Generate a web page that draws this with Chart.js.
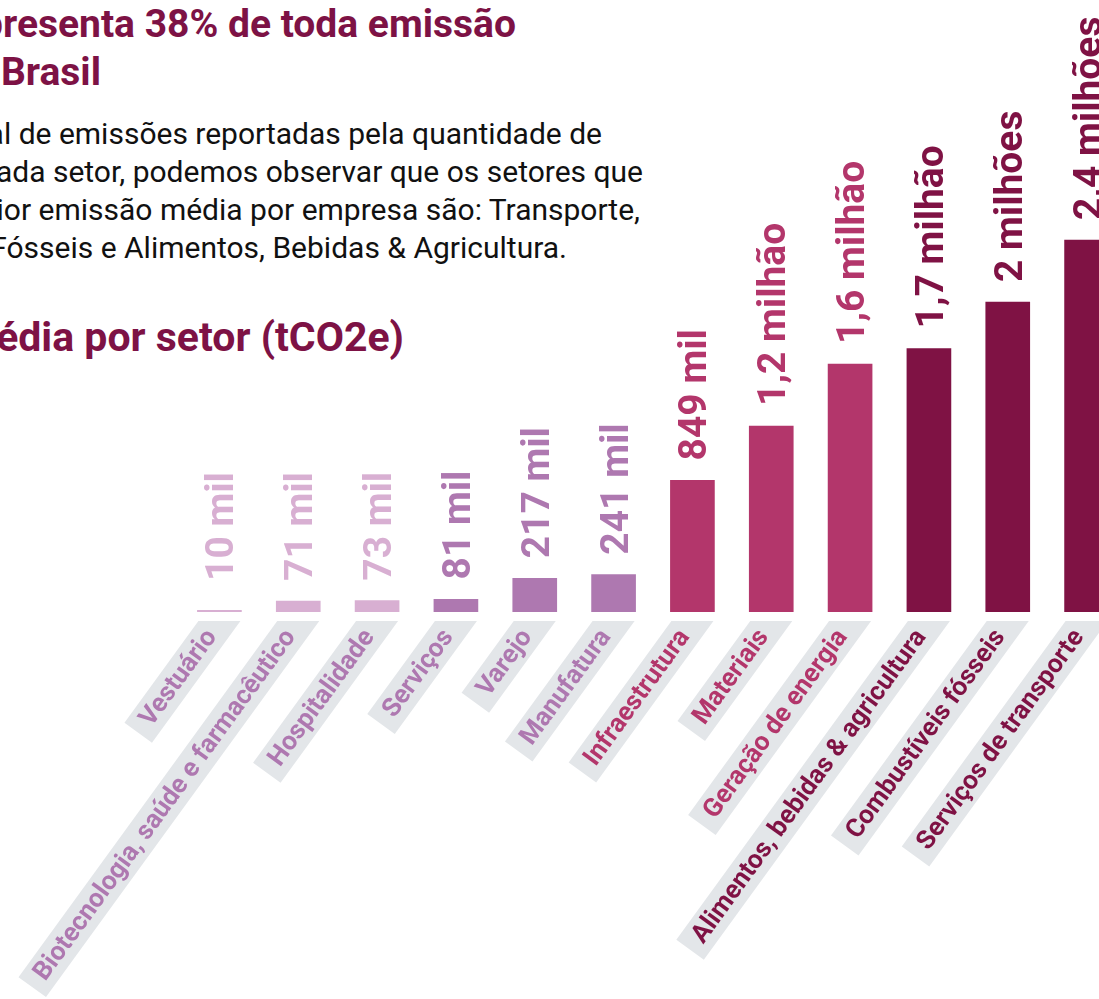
<!DOCTYPE html>
<html lang="pt-BR">
<head>
<meta charset="utf-8">
<script src="https://cdn.jsdelivr.net/npm/chart.js@4.4.1/dist/chart.umd.min.js"></script>
<style>
  html, body { margin: 0; padding: 0; background: #fff; }
  body { width: 1099px; height: 999px; overflow: hidden; position: relative; font-family: Roboto, sans-serif; }
  .t { position: absolute; white-space: nowrap; }
  .titulo { font-weight: 700; font-size: 39px; line-height: 48px; color: #7d1245; }
  .texto { font-size: 30px; line-height: 38px; color: #111; }
  .sub { font-weight: 700; font-size: 41px; line-height: 50px; color: #7d1245; }
  #grafico { position: absolute; left: 0; top: -8px; }
</style>
</head>
<body>
<div class="t titulo" style="right:583px; top:0">presenta 38% de toda emissão</div>
<div class="t titulo" style="right:998px; top:48px">Brasil</div>
<div class="t texto" style="right:497px; top:115px">al de emissões reportadas pela quantidade de</div>
<div class="t texto" style="right:456px; top:153px">ada setor, podemos observar que os setores que</div>
<div class="t texto" style="right:459px; top:191px">ior emissão média por empresa são: Transporte,</div>
<div class="t texto" style="right:532px; top:229px">Fósseis e Alimentos, Bebidas &amp; Agricultura.</div>
<div class="t sub" style="right:695px; top:312px">édia por setor (tCO2e)</div>
<canvas id="grafico" width="1130" height="1010"></canvas>
<script>
// setores e emissão média por empresa (tCO2e)
const setores = [
  'Vestuário', 'Biotecnologia, saúde e farmacêutico', 'Hospitalidade', 'Serviços',
  'Varejo', 'Manufatura', 'Infraestrutura', 'Materiais', 'Geração de energia',
  'Alimentos, bebidas & agricultura', 'Combustíveis fósseis', 'Serviços de transporte'
];
const emissoes = [10000, 71000, 73000, 81000, 217000, 241000, 849000, 1200000, 1600000, 1700000, 2000000, 2400000];
const rotulos = ['10 mil', '71 mil', '73 mil', '81 mil', '217 mil', '241 mil', '849 mil',
  '1,2 milhão', '1,6 milhão', '1,7 milhão', '2 milhões', '2,4 milhões'];
// faixa de cor de cada setor
const faixas = [0, 0, 0, 1, 1, 1, 2, 2, 2, 3, 3, 3];

const coresBarra = ['#d8afd2', '#ae78b0', '#b3366b', '#7f1244'];
const coresSetor = ['#ae78b0', '#ae78b0', '#b3366b', '#7f1244'];
const corFaixaRotulo = '#e3e6e9';

const rotulosPlugin = {
  id: 'rotulos',
  afterDatasetsDraw(chart) {
    const ctx = chart.ctx;
    const meta = chart.getDatasetMeta(0);
    const base = chart.chartArea.bottom;

    // valores em cima das barras (verticais)
    meta.data.forEach((bar, i) => {
      ctx.save();
      ctx.translate(bar.x + 14, Math.min(bar.y - 20, base - 31));
      ctx.rotate(-Math.PI / 2);
      ctx.font = 'bold 39px Roboto';
      ctx.fillStyle = coresBarra[faixas[i]];
      ctx.textAlign = 'left';
      ctx.textBaseline = 'alphabetic';
      ctx.fillText(rotulos[i], 0, 0);
      ctx.restore();
    });

    // nomes dos setores inclinados, com faixa cinza
    const corte = base + 9;
    const ang = 54 * Math.PI / 180;
    ctx.save();
    ctx.beginPath();
    ctx.rect(0, corte, chart.width, chart.height - corte);
    ctx.clip();
    meta.data.forEach((bar, i) => {
      ctx.save();
      ctx.translate(bar.x, corte);
      ctx.rotate(-ang);
      ctx.font = 'bold 26px Roboto';
      const w = ctx.measureText(setores[i]).width;
      ctx.fillStyle = corFaixaRotulo;
      ctx.fillRect(-(w + 26), -17, w + 26 + 40, 34);
      ctx.fillStyle = coresSetor[faixas[i]];
      ctx.textAlign = 'right';
      ctx.textBaseline = 'middle';
      ctx.fillText(setores[i], -14, 1);
      ctx.restore();
    });
    ctx.restore();
  }
};

new Chart(document.getElementById('grafico'), {
  type: 'bar',
  data: {
    labels: setores,
    datasets: [{
      data: emissoes,
      backgroundColor: faixas.map(f => coresBarra[f]),
      barThickness: 44,
      borderWidth: 0
    }]
  },
  options: {
    responsive: false,
    animation: false,
    layout: { padding: { left: 180, right: 4, top: 0, bottom: 390 } },
    plugins: { legend: { display: false }, tooltip: { enabled: false } },
    scales: {
      x: { display: false },
      y: { display: false, min: 0, max: 4000000 }
    }
  },
  plugins: [rotulosPlugin]
});
</script>
</body>
</html>
